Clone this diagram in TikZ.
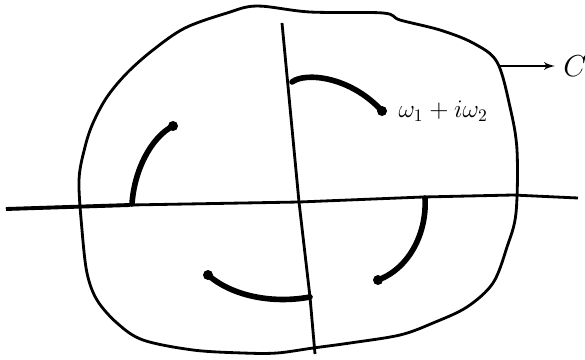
\documentclass[tikz,border=0pt]{standalone}
\usepackage{amsmath}
\usepackage{tikz}
\usetikzlibrary{arrows,positioning}

\begin{document}
\begin{tikzpicture}[x=0.02cm, y=-0.02cm, >=latex', line join=round,
    axis/.style={draw, line width=1.6pt},
    branch/.style={draw, line width=3.2pt, line cap=round},
    pole/.style={circle, fill=black, minimum size=0.2cm, inner sep=0pt}]
    \useasboundingbox (0,0) rectangle (585,359);

    % the region C
    \path[draw, line width=1.6pt] plot[smooth cycle, tension=0.55] coordinates {
        (257,6) (310,12) (383,13) (400,20) (440,30) (473,43) (497,62)
        (510,107) (517,150) (516,213) (507,247) (493,283) (467,307) (433,323)
        (400,335) (350,343) (313,348) (277,353) (243,353) (193,350) (143,340)
        (117,323) (97,300) (87,273) (82,230) (79,180) (85,147) (93,123)
        (107,97) (127,73) (153,50) (185,28) (227,13)};

    % axes
    \coordinate (xl) at (6,209);
    \coordinate (xr) at (578,198);
    \coordinate (yt) at (282,23);
    \coordinate (yb) at (315,354);
    \coordinate (o) at (299,202);
    \path[axis] (xl) -- (130,205) -- (o) -- (423,197) -- (513,195) -- (xr);
    \path[axis, line width=2.2pt] (xl) -- (130,205);
    \path[axis] (yt) -- (o) -- (310,297) -- (yb);

    % branch points
    \node[pole] (ne) at (382,111) {};
    \node[pole] (nw) at (173,126) {};
    \node[pole] (sw) at (208,275) {};
    \node[pole] (se) at (378,280) {};
    \node[right=0.1cm of ne] (lbl) {\Large $\omega_1+i\omega_2$};

    % cuts
    \coordinate (ne0) at (292,82);
    \coordinate (nw0) at (132,204);
    \coordinate (sw0) at (310,297);
    \coordinate (se0) at (425,198);
    \path[branch] (ne0) .. controls (305,72) and (350,76) .. (ne.center);
    \path[branch] (nw0) .. controls (134,172) and (150,138) .. (nw.center);
    \path[branch] (sw.center) .. controls (232,296) and (272,304) .. (sw0);
    \path[branch] (se0) .. controls (427,232) and (410,268) .. (se.center);

    % arrow to C
    \coordinate (cs) at (498,66);
    \node[anchor=west, inner sep=0pt] (cc) at (563,66) {\LARGE $C$};
    \path[draw, ->, line width=1.2pt, shorten >=0.16cm] (cs) -- (cc);
\end{tikzpicture}
\end{document}
